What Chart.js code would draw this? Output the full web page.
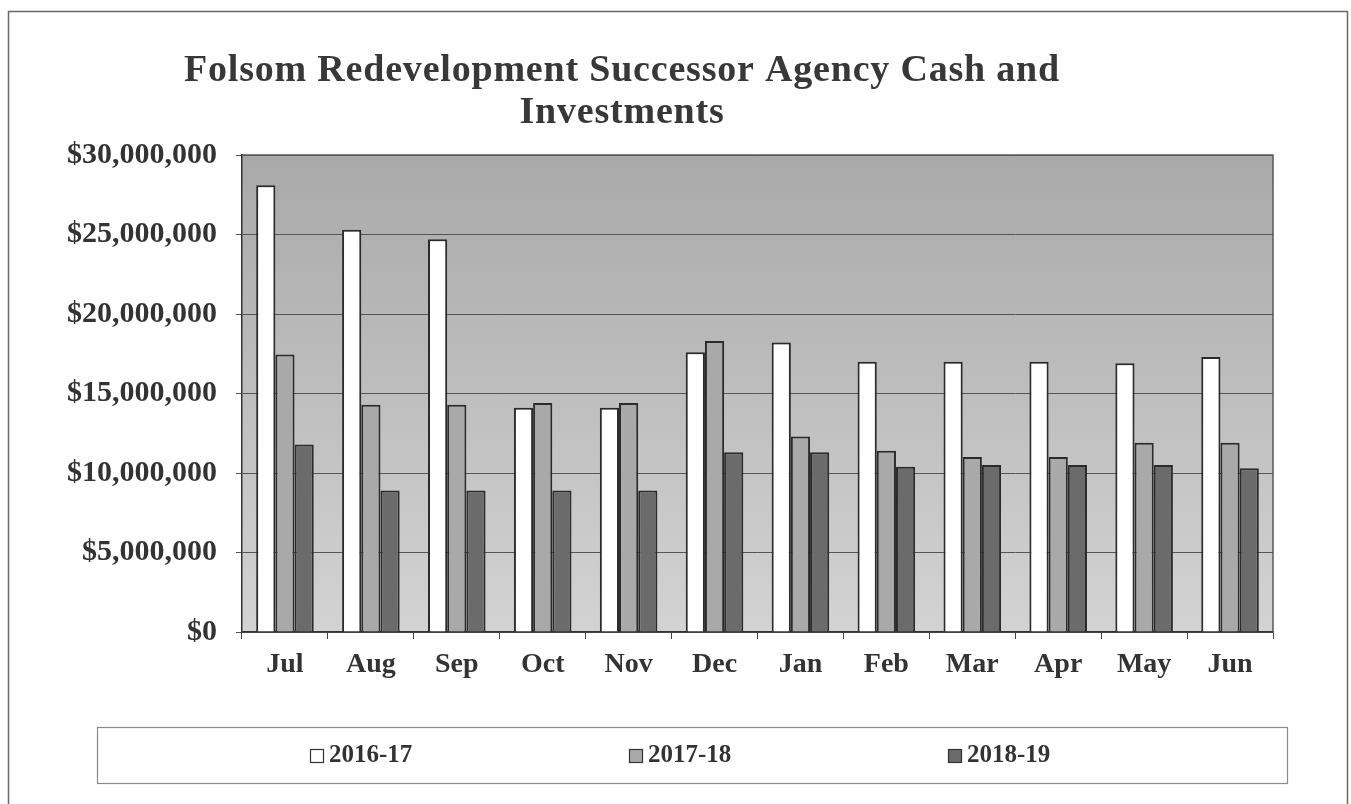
<!DOCTYPE html>
<html><head><meta charset="utf-8">
<script src="https://cdn.jsdelivr.net/npm/chart.js@4"></script>
<style>html,body{margin:0;padding:0;background:#fff}#wrap{width:1351px;height:804px;position:relative}</style>
</head><body><div id="wrap"><canvas id="c" width="1351" height="804"></canvas></div>
<script>
const titleLines = ['Folsom Redevelopment Successor Agency Cash and', 'Investments'];
const months = ['Jul','Aug','Sep','Oct','Nov','Dec','Jan','Feb','Mar','Apr','May','Jun'];
const seriesNames = ['2016-17','2017-18','2018-19'];
const fy1617 = [28100000,25300000,24700000,14100000,14100000,17600000,18200000,17000000,17000000,17000000,16900000,17300000];
const fy1718 = [17450000,14300000,14300000,14400000,14400000,18300000,12300000,11400000,11000000,11000000,11900000,11900000];
const fy1819 = [11800000,8900000,8900000,8900000,8900000,11300000,11300000,10400000,10500000,10500000,10500000,10300000];
const yTickValues = [0,5000000,10000000,15000000,20000000,25000000,30000000];
const yTickLabels = ['$0','$5,000,000','$10,000,000','$15,000,000','$20,000,000','$25,000,000','$30,000,000'];

const SERIF = '"Liberation Serif", "Times New Roman", serif';
const fillColors = ['#ffffff','#a9a9a9','#6b6b6b'];

const bgPlugin = {
  id:'bg',
  beforeDraw(chart){
    const {ctx, chartArea:a} = chart;
    const g = ctx.createLinearGradient(0, a.top, 0, a.bottom);
    g.addColorStop(0, '#a9a9a9');
    g.addColorStop(1, '#d3d3d3');
    ctx.save();
    ctx.fillStyle = g;
    ctx.fillRect(a.left, a.top, a.right - a.left, a.bottom - a.top);
    ctx.restore();
  },
  beforeDatasetsDraw(chart){
    const {ctx, chartArea:a} = chart;
    ctx.save();
    ctx.strokeStyle = '#5a5a5a';
    ctx.lineWidth = 1.5;
    ctx.beginPath();
    ctx.moveTo(a.left, a.top); ctx.lineTo(a.right, a.top); ctx.lineTo(a.right, a.bottom);
    ctx.stroke();
    ctx.restore();
  }
};

const decoPlugin = {
  id:'deco',
  afterDraw(chart){
    const ctx = chart.ctx;
    ctx.save();
    // outer frame
    ctx.strokeStyle = '#6a6a6a';
    ctx.lineWidth = 1.5;
    ctx.strokeRect(8.5, 11.5, 1339, 830);
    // title
    ctx.fillStyle = '#383838';
    ctx.font = 'bold 38px ' + SERIF;
    if ('letterSpacing' in ctx) ctx.letterSpacing = '0.8px';
    ctx.textAlign = 'center';
    ctx.textBaseline = 'middle';
    ctx.fillText(titleLines[0], 622, 71);
    ctx.fillText(titleLines[1], 622, 113);
    if ('letterSpacing' in ctx) ctx.letterSpacing = '0px';
    // legend box
    ctx.strokeStyle = '#8a8a8a';
    ctx.lineWidth = 1.2;
    ctx.strokeRect(97.5, 727.5, 1190, 56);
    ctx.font = 'bold 25px ' + SERIF;
    ctx.textAlign = 'left';
    chart.data.datasets.forEach((ds, i) => {
      const x = 310 + i * 319;
      ctx.fillStyle = ds.backgroundColor;
      ctx.fillRect(x, 749, 14, 14);
      ctx.strokeStyle = '#333';
      ctx.lineWidth = 1.2;
      ctx.strokeRect(x + 0.5, 749.5, 13, 13);
      ctx.fillStyle = '#333';
      ctx.fillText(ds.label, x + 19, 756);
    });
    ctx.restore();
  }
};

new Chart(document.getElementById('c'), {
  type: 'bar',
  data: {
    labels: months,
    datasets: [
      {label: seriesNames[0], data: fy1617, backgroundColor: fillColors[0], borderColor: '#2b2b2b', borderWidth: 2},
      {label: seriesNames[1], data: fy1718, backgroundColor: fillColors[1], borderColor: '#2b2b2b', borderWidth: 2},
      {label: seriesNames[2], data: fy1819, backgroundColor: fillColors[2], borderColor: '#2b2b2b', borderWidth: 2}
    ]
  },
  options: {
    responsive: false,
    animation: false,
    layout: {padding: {top: 155, right: 78, bottom: 112, left: 0}},
    datasets: {bar: {categoryPercentage: 0.67, barPercentage: 1.0}},
    plugins: {legend: {display: false}, title: {display: false}, tooltip: {enabled: false}},
    scales: {
      x: {
        grid: {display: true, drawOnChartArea: false, drawTicks: true, tickLength: 7, color: '#444', offset: true},
        border: {display: true, color: '#333', width: 1.5},
        ticks: {font: {family: SERIF, size: 28, weight: 'bold'}, color: '#333', padding: 9},
        afterFit(s){ s.height = 60; }
      },
      y: {
        min: 0, max: 30000000,
        afterBuildTicks(s){ s.ticks = yTickValues.map(v => ({value: v})); },
        ticks: {
          font: {family: SERIF, size: 30, weight: 'bold'}, color: '#333', padding: 19,
          callback(v){ const i = yTickValues.indexOf(v); return i >= 0 ? yTickLabels[i] : ''; }
        },
        grid: {color: '#555', lineWidth: 1, tickLength: 6, drawTicks: true},
        border: {display: true, color: '#333', width: 1.5},
        afterFit(s){ s.width = 242; }
      }
    }
  },
  plugins: [bgPlugin, decoPlugin]
});
</script></body></html>
